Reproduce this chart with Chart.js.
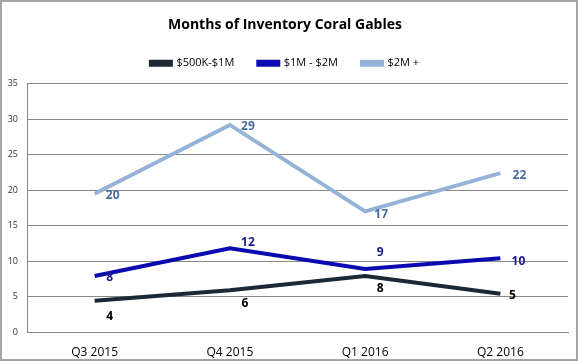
<!DOCTYPE html>
<html>
<head>
<meta charset="utf-8">
<script src="https://cdn.jsdelivr.net/npm/chart.js@4"></script>
<style>
  html, body { margin: 0; padding: 0; background: #fff; }
  #wrap { width: 578px; height: 361px; box-sizing: border-box; border: 2px solid #a6a6a6; position: relative; }
  canvas { display: block; }
</style>
</head>
<body>
<div id="wrap"><canvas id="chart" width="574" height="357"></canvas></div>
<script>
// chart data
var trimestres = ["Q3 2015", "Q4 2015", "Q1 2016", "Q2 2016"];
var faixa1 = [4.4, 5.9, 7.9, 5.4];     // $500K-$1M
var faixa2 = [7.9, 11.8, 8.9, 10.4];   // $1M - $2M
var faixa3 = [19.5, 29.2, 17.0, 22.4]; // $2M +
var ticksY = [0, 5, 10, 15, 20, 25, 30, 35];

// where each value label sits relative to its point (dx, dy)
var posLabels = [
    [[15, 16], [15, 13], [15, 13], [12, 2]],
    [[15, 2], [18, -6], [15, -16], [18, 3]],
    [[18, 2], [18, 2], [16, 3], [19, 2]]
];
var corLabels = ["#000000", "#1a1a8f", "#4a6a9c"];

var rotulos = {
    id: "rotulos",
    afterDatasetsDraw: function(chart) {
        var ctx = chart.ctx;
        ctx.save();
        ctx.font = "bold 12px 'Open Sans', sans-serif";
        ctx.textAlign = "center";
        ctx.textBaseline = "middle";
        chart.data.datasets.forEach(function(ds, d) {
            var meta = chart.getDatasetMeta(d);
            meta.data.forEach(function(pt, i) {
                ctx.fillStyle = corLabels[d];
                ctx.fillText(Math.round(ds.data[i]), pt.x + posLabels[d][i][0], pt.y + posLabels[d][i][1]);
            });
        });
        ctx.restore();
    }
};

// a bit more room under the legend
var espacoLegenda = {
    id: "espacoLegenda",
    beforeInit: function(chart) {
        var fitOriginal = chart.legend.fit;
        chart.legend.fit = function() {
            fitOriginal.bind(chart.legend)();
            this.height += 5;
        };
    }
};

var context = document.getElementById("chart");

var grafico = new Chart(context, {
    type: "line",
    data: {
        labels: trimestres,
        datasets: [{
            label: "$500K-$1M",
            data: faixa1,
            borderColor: "#1c2836",
            backgroundColor: "#1c2836",
            borderWidth: 4,
            pointRadius: 0,
            tension: 0
        }, {
            label: "$1M - $2M",
            data: faixa2,
            borderColor: "#0a0ab0",
            backgroundColor: "#0a0ab0",
            borderWidth: 4,
            pointRadius: 0,
            tension: 0
        }, {
            label: "$2M +",
            data: faixa3,
            borderColor: "#95b3d7",
            backgroundColor: "#95b3d7",
            borderWidth: 4,
            pointRadius: 0,
            tension: 0
        }]
    },
    options: {
        responsive: false,
        animation: false,
        layout: { padding: { left: 0, right: 8, top: 0, bottom: 0 } },
        plugins: {
            title: {
                display: true,
                text: "Months of Inventory Coral Gables",
                color: "#000",
                font: { family: "'Open Sans', sans-serif", size: 14, weight: "bold" },
                padding: { top: 15, bottom: 0 }
            },
            legend: {
                labels: {
                    color: "#000",
                    font: { family: "'Open Sans', sans-serif", size: 11 },
                    boxWidth: 20,
                    boxHeight: 3,
                    padding: 24
                }
            },
            tooltip: { enabled: false }
        },
        scales: {
            x: {
                offset: true,
                afterFit: function(scale) { scale.height = 27; },
                grid: { display: false, drawTicks: false },
                border: { color: "#888" },
                ticks: {
                    color: "#000",
                    font: { family: "'Open Sans', sans-serif", size: 12 },
                    padding: 13
                }
            },
            y: {
                min: 0,
                max: 35,
                afterFit: function(scale) { scale.width = 25; },
                afterBuildTicks: function(scale) {
                    scale.ticks = ticksY.map(function(v) { return { value: v }; });
                },
                grid: { color: "#888", drawTicks: false },
                border: { color: "#888" },
                ticks: {
                    color: "#333",
                    font: { family: "'Open Sans', sans-serif", size: 9 },
                    padding: 9
                }
            }
        }
    },
    plugins: [rotulos, espacoLegenda]
});
</script>
</body>
</html>
